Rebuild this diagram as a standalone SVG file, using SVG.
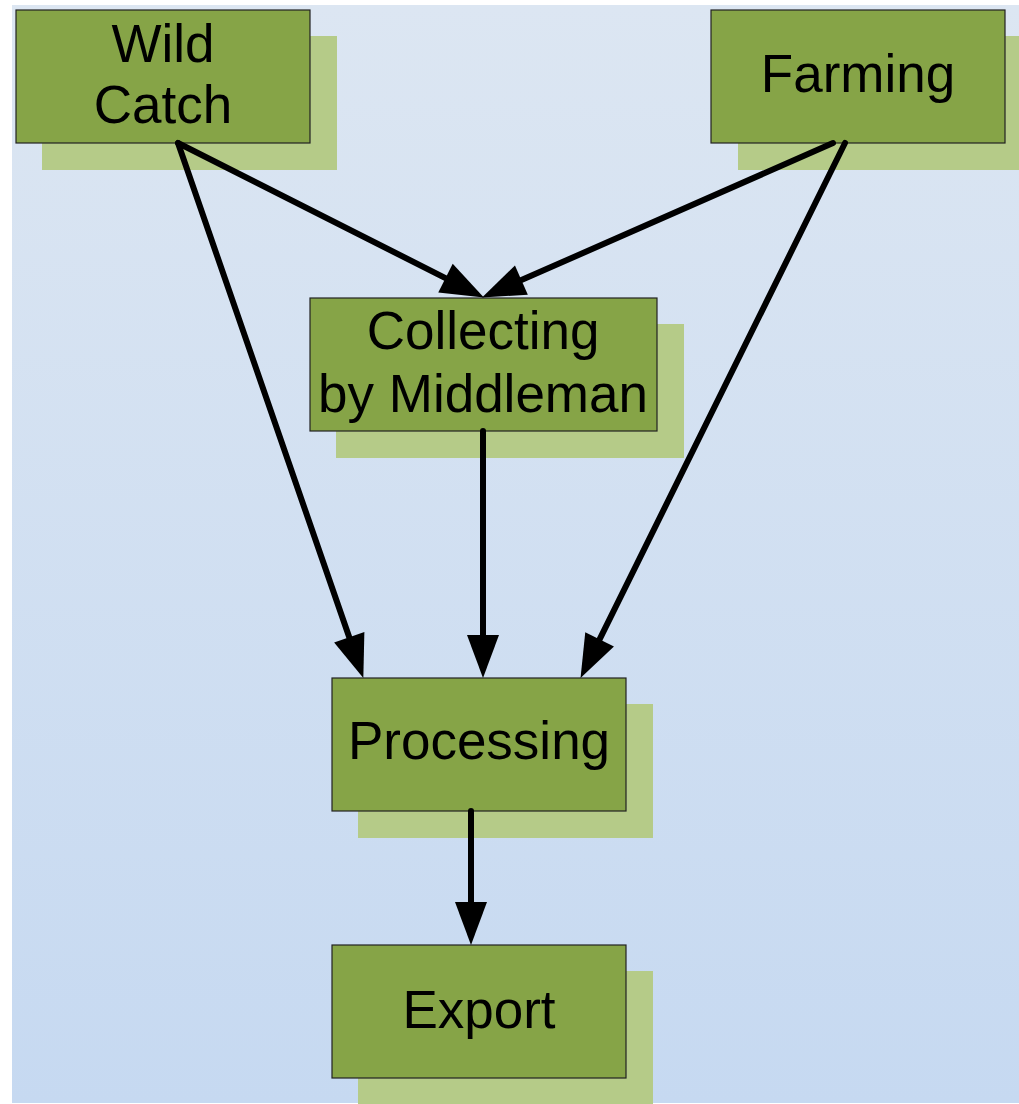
<svg xmlns="http://www.w3.org/2000/svg" width="1019" height="1104" viewBox="0 0 1019 1104">
<defs>
<linearGradient id="bg" x1="0" y1="0" x2="0" y2="1">
<stop offset="0" stop-color="#dce6f2"/>
<stop offset="1" stop-color="#c6d9f1"/>
</linearGradient>
<marker id="ah" markerUnits="userSpaceOnUse" markerWidth="46" markerHeight="34" refX="0" refY="16" orient="auto" overflow="visible">
<path d="M0,0 L43,16 L0,32 Z" fill="#000"/>
</marker>
<style>
.shadow{fill:#b5cb88}
.box{fill:#86a447;stroke:#222;stroke-width:1.2}
.lbl{font-family:"Liberation Sans",Arial,sans-serif;font-size:53px;fill:#000;text-anchor:middle}
.con{stroke:#000;stroke-width:6;fill:none;stroke-linecap:round;marker-end:url(#ah)}
</style>
</defs>
<rect width="1019" height="1104" fill="#fff"/>
<rect x="12" y="5" width="1007" height="1098" fill="url(#bg)"/>
<g id="wild">
<rect class="shadow" x="42" y="36" width="295" height="134"/>
<rect class="box" x="16" y="10" width="294" height="133"/>
<text class="lbl" x="163" y="62">Wild</text>
<text class="lbl" x="163" y="123">Catch</text>
</g>
<g id="farming">
<rect class="shadow" x="738" y="36" width="290" height="134"/>
<rect class="box" x="711" y="10" width="294" height="133"/>
<text class="lbl" x="858" y="92">Farming</text>
</g>
<g id="collecting">
<rect class="shadow" x="336" y="324" width="348" height="134"/>
<rect class="box" x="310" y="298" width="347" height="133"/>
<text class="lbl" x="483" y="349">Collecting</text>
<text class="lbl" x="483" y="412">by Middleman</text>
</g>
<g id="processing">
<rect class="shadow" x="358" y="704" width="295" height="134"/>
<rect class="box" x="332" y="678" width="294" height="133"/>
<text class="lbl" x="479" y="759">Processing</text>
</g>
<g id="export">
<rect class="shadow" x="358" y="971" width="295" height="134"/>
<rect class="box" x="332" y="945" width="294" height="133"/>
<text class="lbl" x="479" y="1028">Export</text>
</g>
<g id="connectors">
<line class="con" x1="178" y1="143" x2="445.5" y2="278.1"/>
<line class="con" x1="178" y1="143" x2="349.25" y2="637.3"/>
<line class="con" x1="833" y1="143" x2="521.4" y2="280.1"/>
<line class="con" x1="845" y1="143" x2="599.6" y2="639.4"/>
<line class="con" x1="483" y1="431" x2="483" y2="635"/>
<line class="con" x1="471" y1="811" x2="471" y2="902"/>
</g>
</svg>
